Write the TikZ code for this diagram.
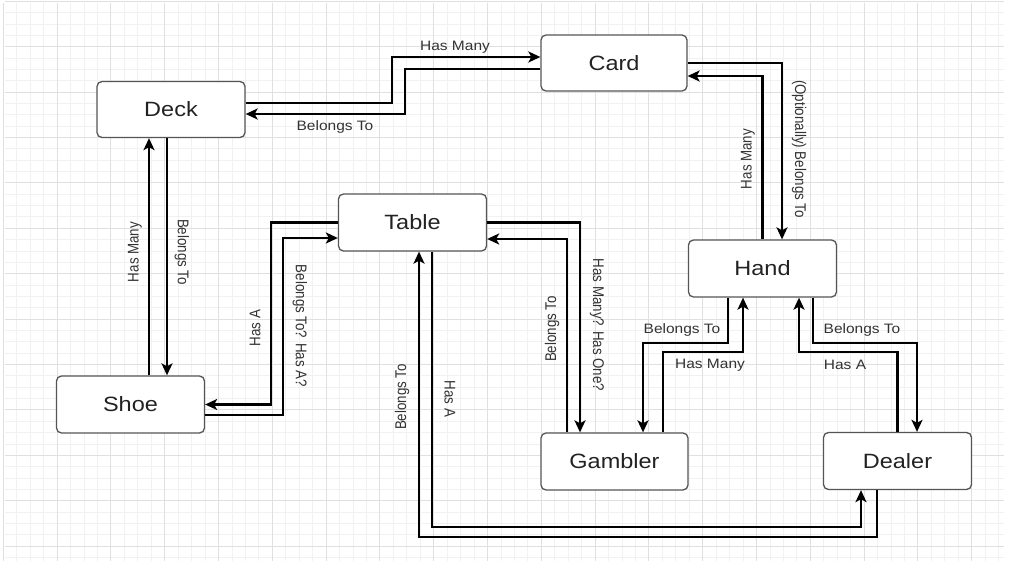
\documentclass[tikz,border=0pt]{standalone}
\usepackage{graphicx}
\usepackage{fontspec}
\setmainfont{Liberation Sans}
\usetikzlibrary{arrows.meta}
\definecolor{gridminor}{HTML}{F1F1F1}
\definecolor{gridmajor}{HTML}{E0E0E0}
\definecolor{boxline}{HTML}{555555}
\definecolor{txt}{HTML}{222222}
\definecolor{lbltxt}{HTML}{333333}
\newcommand\vsq[1]{\scalebox{0.86}[1]{#1}}
\newcommand\hsq[1]{\scalebox{1}[0.88]{#1}}
\begin{document}
\begin{tikzpicture}[x=1pt,y=-1pt,
  entity/.style={draw=boxline, line width=1.3pt, rounded corners=5pt, fill=white,
    minimum width=148pt, minimum height=56pt, inner sep=0pt,
    font=\fontsize{23.5}{26}\selectfont, text=txt},
  conn/.style={draw=black, line width=2.2pt,
    -{Stealth[length=12pt,width=11pt,inset=3pt]}},
  lbl/.style={font=\fontsize{15.5}{17}\selectfont, text=lbltxt, inner sep=0pt},
  minorline/.style={draw=gridminor, line width=0.7pt},
  majorline/.style={draw=gridmajor, line width=0.9pt}]
\useasboundingbox (0,0) rectangle (1009,564);
\fill[white] (0,0) rectangle (1009,564);
% grid
\foreach \k in {0,...,74} {\pgfmathsetmacro\xx{3.2+13.45*\k}
  \path[minorline] (\xx,3) -- (\xx,561);}
\foreach \k in {0,...,49} {\pgfmathsetmacro\yy{1.2+11.35*\k}
  \path[minorline] (5,\yy) -- (1004,\yy);}
\foreach \k in {0,...,18} {\pgfmathsetmacro\xx{3.2+53.8*\k}
  \path[majorline] (\xx,3) -- (\xx,561);}
\foreach \k in {0,...,12} {\pgfmathsetmacro\yy{1.2+45.4*\k}
  \path[majorline] (5,\yy) -- (1004,\yy);}
% entities
\node[entity] (deck)    at (171,109.5)  {\hsq{Deck}};
\node[entity, minimum width=146pt] (card) at (614,63) {\hsq{Card}};
\node[entity, minimum height=57pt] (hand)    at (762.5,268.5) {\hsq{Hand}};
\node[entity, minimum height=57pt] (table)   at (412.5,222.5) {\hsq{Table}};
\node[entity, minimum height=57pt] (shoe)    at (130.5,404.5) {\hsq{Shoe}};
\node[entity, minimum width=147pt, minimum height=57pt] (gambler) at (614.5,461.5) {\hsq{Gambler}};
\node[entity, minimum height=57pt] (dealer)  at (897.5,461)   {\hsq{Dealer}};
% Deck <-> Card
\draw[conn] ([yshift=6.5pt]deck.east) -- ++(146,0) |- ([yshift=6pt]card.west);
\draw[conn] ([yshift=-6pt]card.west) -| (405,114) -- ([yshift=-4.5pt]deck.east);
\node[lbl] (l1) at (455,47) {\hsq{Has Many}};
\node[lbl] (l2) at (335,127) {\hsq{Belongs To}};
% Hand <-> Card
\draw[conn] (hand.north) |- ([yshift=-13pt]card.east);
\draw[conn] (card.east) -| ([xshift=19.5pt]hand.north);
\node[lbl, rotate=90] (l3) at (748,159) {\vsq{Has Many}};
\node[lbl, rotate=-90] (l4) at (799,149) {\vsq{(Optionally) Belongs To}};
% Shoe <-> Deck
\draw[conn] ([xshift=18.5pt]shoe.north) -- ([xshift=-22pt]deck.south);
\draw[conn] ([xshift=-4pt]deck.south) -- ([xshift=36.5pt]shoe.north);
\node[lbl, rotate=90] (l5) at (135,252) {\vsq{Has Many}};
\node[lbl, rotate=-90] (l6) at (182,252) {\vsq{Belongs To}};
% Table <-> Shoe
\draw[conn] (table.west) -| ([xshift=66pt]shoe.east) -- (shoe.east);
\draw[conn] ([yshift=-10.5pt]shoe.east) -| (283,238) -- ([yshift=-15.5pt]table.west);
\node[lbl, rotate=90] (l7) at (255,328) {\vsq{Has A}};
\node[lbl, rotate=-90] (l8) at (300,326) {\vsq{Belongs To? Has A?}};
% Table <-> Gambler
\draw[conn] (table.east) -| ([xshift=-34.5pt]gambler.north);
\draw[conn] ([xshift=-47.5pt]gambler.north) |- ([yshift=-16.5pt]table.east);
\node[lbl, rotate=90] (l9) at (552,329) {\vsq{Belongs To}};
\node[lbl, rotate=-90] (l10) at (597,325) {\vsq{Has Many? Has One?}};
% Table <-> Dealer
\draw[conn] ([xshift=-20.5pt]dealer.south) -- ++(0,47) -| ([xshift=6.5pt]table.south);
\draw[conn] ([xshift=19.5pt]table.south) -- ++(0,275) -| ([xshift=-36.5pt]dealer.south);
\node[lbl, rotate=90] (l11) at (402,397) {\vsq{Belongs To}};
\node[lbl, rotate=-90] (l12) at (450,399) {\vsq{Has A}};
% Hand <-> Gambler
\draw[conn] ([xshift=-34.5pt]hand.south) -- ++(0,45) -| ([xshift=28.5pt]gambler.north);
\draw[conn] ([xshift=48.5pt]gambler.north) -- ++(0,-80) -| ([xshift=-19.5pt]hand.south);
\node[lbl] (l13) at (682,330) {\hsq{Belongs To}};
\node[lbl] (l14) at (710,365) {\hsq{Has Many}};
% Hand <-> Dealer
\draw[conn] (dealer.north) -- ++(0,-80) -| ([xshift=36.5pt]hand.south);
\draw[conn] ([xshift=50.5pt]hand.south) -- ++(0,45) -| ([xshift=19.5pt]dealer.north);
\node[lbl] (l15) at (845,365) {\hsq{Has A}};
\node[lbl] (l16) at (862,330) {\hsq{Belongs To}};
\end{tikzpicture}
\end{document}
